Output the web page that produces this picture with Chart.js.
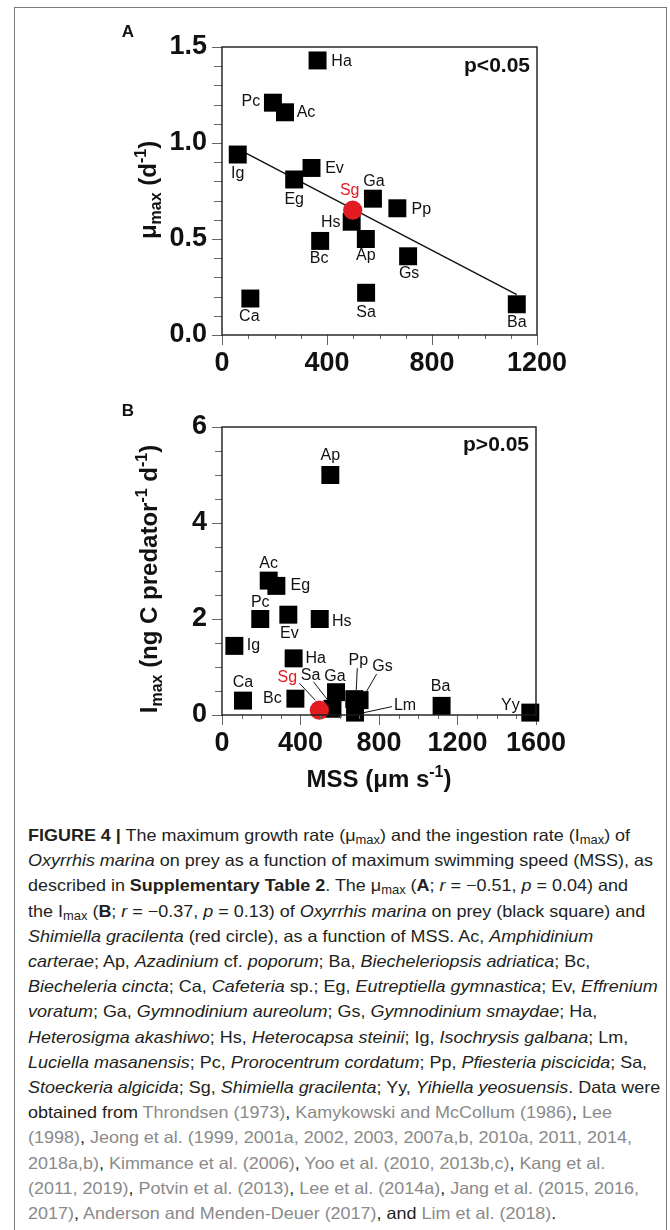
<!DOCTYPE html>
<html>
<head>
<meta charset="utf-8">
<title>Figure 4</title>
<script src="https://cdn.jsdelivr.net/npm/chart.js@4.4.1/dist/chart.umd.min.js"></script>
<style>
  html, body { margin: 0; padding: 0; background: #fff; }
  body { width: 670px; height: 1230px; position: relative; overflow: hidden; font-family: 'Liberation Sans', Arial, Helvetica, sans-serif; }
  #frame { position: absolute; left: 14px; top: 7px; width: 653px; height: 1260px; border: 1.5px solid #7a7a7a; box-sizing: border-box; }
  canvas { position: absolute; left: 0; }
  #chartA { top: 0; }
  #chartB { top: 390px; }
  #caption { position: absolute; left: 28px; top: 823px; font-size: 16.5px; line-height: 25.2px; color: #231f20; white-space: nowrap; transform-origin: 0 0; }
  #caption div { display: block; }
  #caption span.line { display: inline-block; }
  #caption sub { font-size: 0.72em; vertical-align: -0.28em; line-height: 0; }
  .ref { color: #8a8a8a; }
</style>
</head>
<body>
<div id="frame"></div>
<canvas id="chartA" width="670" height="390"></canvas>
<canvas id="chartB" width="670" height="420"></canvas>

<div id="caption">
  <div><span class="line"><b>FIGURE 4 |</b> The maximum growth rate (μ<sub>max</sub>) and the ingestion rate (I<sub>max</sub>) of</span></div>
  <div><span class="line" id="refLine"><i>Oxyrrhis marina</i> on prey as a function of maximum swimming speed (MSS), as</span></div>
  <div><span class="line">described in <b>Supplementary Table 2</b>. The μ<sub>max</sub> (<b>A</b>; <i>r</i> = −0.51, <i>p</i> = 0.04) and</span></div>
  <div><span class="line">the I<sub>max</sub> (<b>B</b>; <i>r</i> = −0.37, <i>p</i> = 0.13) of <i>Oxyrrhis marina</i> on prey (black square) and</span></div>
  <div><span class="line"><i>Shimiella gracilenta</i> (red circle), as a function of MSS. Ac, <i>Amphidinium</i></span></div>
  <div><span class="line"><i>carterae</i>; Ap, <i>Azadinium</i> cf. <i>poporum</i>; Ba, <i>Biecheleriopsis adriatica</i>; Bc,</span></div>
  <div><span class="line"><i>Biecheleria cincta</i>; Ca, <i>Cafeteria</i> sp.; Eg, <i>Eutreptiella gymnastica</i>; Ev, <i>Effrenium</i></span></div>
  <div><span class="line"><i>voratum</i>; Ga, <i>Gymnodinium aureolum</i>; Gs, <i>Gymnodinium smaydae</i>; Ha,</span></div>
  <div><span class="line"><i>Heterosigma akashiwo</i>; Hs, <i>Heterocapsa steinii</i>; Ig, <i>Isochrysis galbana</i>; Lm,</span></div>
  <div><span class="line"><i>Luciella masanensis</i>; Pc, <i>Prorocentrum cordatum</i>; Pp, <i>Pfiesteria piscicida</i>; Sa,</span></div>
  <div><span class="line"><i>Stoeckeria algicida</i>; Sg, <i>Shimiella gracilenta</i>; Yy, <i>Yihiella yeosuensis</i>. Data were</span></div>
  <div><span class="line">obtained from <span class="ref">Throndsen (1973)</span>, <span class="ref">Kamykowski and McCollum (1986)</span>, <span class="ref">Lee</span></span></div>
  <div><span class="line"><span class="ref">(1998)</span>, <span class="ref">Jeong et al. (1999, 2001a, 2002, 2003, 2007a,b, 2010a, 2011, 2014,</span></span></div>
  <div><span class="line"><span class="ref">2018a,b)</span>, <span class="ref">Kimmance et al. (2006)</span>, <span class="ref">Yoo et al. (2010, 2013b,c)</span>, <span class="ref">Kang et al.</span></span></div>
  <div><span class="line"><span class="ref">(2011, 2019)</span>, <span class="ref">Potvin et al. (2013)</span>, <span class="ref">Lee et al. (2014a)</span>, <span class="ref">Jang et al. (2015, 2016,</span></span></div>
  <div><span class="line"><span class="ref">2017)</span>, <span class="ref">Anderson and Menden-Deuer (2017)</span>, and <span class="ref">Lim et al. (2018)</span>.</span></div>
</div>

<script>
// Figure 4 - mu max and I max of Oxyrrhis marina vs. maximum swimming speed (MSS)

const FONT = "'Liberation Sans', Arial, Helvetica, sans-serif";
const SQUARE_COLOR = '#000000';
const SG_COLOR = '#e31b23';

// Panel A data
const preyA = ['Ha', 'Pc', 'Ac', 'Ig', 'Ev', 'Eg', 'Ga', 'Pp', 'Hs', 'Bc', 'Ap', 'Gs', 'Ca', 'Sa', 'Ba'];
const mssA = [364, 194, 240, 60, 341, 275, 575, 668, 494, 374, 548, 709, 108, 549, 1123];
const muMax = [1.43, 1.21, 1.16, 0.94, 0.87, 0.81, 0.71, 0.66, 0.59, 0.49, 0.50, 0.41, 0.19, 0.22, 0.16];
const sgMssA = [498];
const sgMuMax = [0.65];
const fitMss = [60, 1123];
const fitMu = [0.97, 0.21];
const xTicksA = [0, 400, 800, 1200];
const yTicksA = [0, 0.5, 1.0, 1.5];

// Panel B data
const preyB = ['Ap', 'Ac', 'Eg', 'Pc', 'Ev', 'Hs', 'Ig', 'Ha', 'Ca', 'Bc', 'Sa', 'Ga', 'Pp', 'Gs', 'Lm', 'Ba', 'Yy'];
const mssB = [552, 238, 277, 195, 338, 498, 63, 365, 107, 374, 563, 581, 674, 701, 678, 1119, 1571];
const iMax = [5.0, 2.80, 2.69, 2.00, 2.09, 2.00, 1.44, 1.18, 0.30, 0.34, 0.13, 0.475, 0.33, 0.31, 0.05, 0.19, 0.05];
const sgMssB = [496];
const sgIMax = [0.10];
const xTicksB = [0, 400, 800, 1200, 1600];
const yTicksB = [0, 2, 4, 6];

// label placement (pixel offsets from each marker: [dx, dy] or [dx, dy, x1, y1, x2, y2] with a leader line)
const labelPosA = {
    Ha: [24, 1], Pc: [-22, -1], Ac: [21, 0], Ig: [0, 19], Ev: [23, 1], Eg: [0, 20], Ga: [1, -17],
    Pp: [24, 1], Hs: [-21, 1], Bc: [-1, 18], Ap: [0, 17], Gs: [1, 17], Ca: [-1, 18], Sa: [0, 20], Ba: [0, 18],
    Sg: [-3, -20]
};
const labelPosB = {
    Ap: [0, -19], Ac: [0, -17], Eg: [24, 0], Pc: [0, -16], Ev: [1, 19], Hs: [22, 3], Ig: [19, 0], Ha: [22, 0],
    Ca: [0, -18], Bc: [-23, 0], Ba: [-1, -19], Yy: [-20, -7], Ga: [-1, -16],
    Sa: [-22, -33, -19, -27, -5, -9],
    Pp: [4, -39, 3, -31, 2, -9],
    Gs: [23, -34, 17, -26, 6, -7],
    Lm: [50, -7, 37, -6, 9, 0],
    Sg: [-32, -33, -20, -27, -4, -10]
};

Chart.defaults.font.family = FONT;
Chart.defaults.color = '#111';

function toPoints(xs, ys) {
    return xs.map((x, i) => ({ x: x, y: ys[i] }));
}

// draw a string made of parts [text, size, baselineShift]
function drawRich(ctx, parts, cx, cy, rotated) {
    ctx.save();
    ctx.translate(cx, cy);
    if (rotated) ctx.rotate(-Math.PI / 2);
    ctx.textAlign = 'left';
    ctx.textBaseline = 'alphabetic';
    let total = 0;
    parts.forEach(p => {
        ctx.font = 'bold ' + p[1] + 'px ' + FONT;
        total += ctx.measureText(p[0]).width;
    });
    let x = -total / 2;
    const base = parts[0][1] * 0.36;
    parts.forEach(p => {
        ctx.font = 'bold ' + p[1] + 'px ' + FONT;
        ctx.fillText(p[0], x, base + p[2]);
        x += ctx.measureText(p[0]).width;
    });
    ctx.restore();
}

// frame, minor ticks, axis titles, panel letter and p value
const decorPlugin = {
    id: 'decor',
    afterDraw(chart, args, o) {
        const ctx = chart.ctx;
        const a = chart.chartArea;
        const xs = chart.scales.x, ys = chart.scales.y;
        ctx.save();

        // minor ticks
        ctx.strokeStyle = '#666';
        ctx.lineWidth = 1;
        ctx.beginPath();
        const nx = Math.round((xs.max - xs.min) / o.xMinor);
        for (let i = 0; i <= nx; i++) {
            const v = xs.min + i * o.xMinor;
            if (o.xMajors.includes(v)) continue;
            const px = Math.round(xs.getPixelForValue(v)) + 0.5;
            ctx.moveTo(px, a.bottom);
            ctx.lineTo(px, a.bottom + o.xMinorLen);
        }
        const ny = Math.round((ys.max - ys.min) / o.yMinor);
        for (let i = 0; i <= ny; i++) {
            const v = +(ys.min + i * o.yMinor).toFixed(4);
            if (o.yMajors.includes(v)) continue;
            const py = Math.round(ys.getPixelForValue(v)) + 0.5;
            ctx.moveTo(a.left, py);
            ctx.lineTo(a.left - o.yMinorLen, py);
        }
        ctx.stroke();

        // plot frame
        ctx.strokeStyle = '#1a1a1a';
        ctx.lineWidth = 1.4;
        ctx.strokeRect(a.left, a.top, a.right - a.left, a.bottom - a.top);

        // titles
        ctx.fillStyle = '#111';
        if (o.yTitle) drawRich(ctx, o.yTitle, o.yTitlePos[0], o.yTitlePos[1], true);
        if (o.xTitle) drawRich(ctx, o.xTitle, o.xTitlePos[0], o.xTitlePos[1], false);

        // panel letter
        ctx.font = 'bold 17px ' + FONT;
        ctx.textAlign = 'center';
        ctx.textBaseline = 'alphabetic';
        ctx.fillText(o.letter, o.letterPos[0], o.letterPos[1]);

        // p value
        ctx.font = 'bold 21px ' + FONT;
        ctx.textAlign = 'right';
        ctx.fillText(o.pText, a.right - 7, a.top + o.pBaseline);
        ctx.restore();
    }
};

// text labels next to markers, with optional leader lines
const labelPlugin = {
    id: 'pointLabels',
    afterDatasetsDraw(chart, args, o) {
        const ctx = chart.ctx;
        ctx.save();
        ctx.font = '16px ' + FONT;
        ctx.textAlign = 'center';
        ctx.textBaseline = 'middle';
        o.sets.forEach(set => {
            const meta = chart.getDatasetMeta(set.dataset);
            meta.data.forEach((pt, i) => {
                const name = set.names[i];
                const pos = o.positions[name];
                if (!pos) return;
                if (pos.length > 2) {
                    ctx.strokeStyle = '#111';
                    ctx.lineWidth = 1;
                    ctx.beginPath();
                    ctx.moveTo(pt.x + pos[2], pt.y + pos[3]);
                    ctx.lineTo(pt.x + pos[4], pt.y + pos[5]);
                    ctx.stroke();
                }
                ctx.fillStyle = set.color;
                ctx.fillText(name, pt.x + pos[0], pt.y + pos[1]);
            });
        });
        ctx.restore();
    }
};

function axis(ticksArr, fitSize, isY, fmt, pad) {
    return {
        type: 'linear',
        min: ticksArr[0],
        max: ticksArr[ticksArr.length - 1],
        afterBuildTicks: s => { s.ticks = ticksArr.map(v => ({ value: v })); },
        afterFit: s => { if (isY) s.width = fitSize; else s.height = fitSize; },
        ticks: {
            autoSkip: false,
            maxRotation: 0,
            padding: pad,
            color: '#111',
            font: { size: 27, weight: 'bold' },
            callback: fmt
        },
        grid: { drawOnChartArea: false, drawTicks: true, tickLength: 10, tickColor: '#666', tickWidth: 1 },
        border: { display: false }
    };
}

function squaresDataset(xs, ys) {
    return {
        label: 'prey',
        data: toPoints(xs, ys),
        pointStyle: 'rect',
        pointRadius: 12.7,
        pointHoverRadius: 12.7,
        pointBackgroundColor: SQUARE_COLOR,
        pointBorderWidth: 0,
        clip: false,
        order: 1
    };
}

function sgDataset(xs, ys) {
    return {
        label: 'Sg',
        data: toPoints(xs, ys),
        pointStyle: 'circle',
        pointRadius: 9.6,
        pointHoverRadius: 9.6,
        pointBackgroundColor: SG_COLOR,
        pointBorderWidth: 0,
        clip: false,
        order: 0
    };
}

// Panel A chart
new Chart(document.getElementById('chartA'), {
    type: 'scatter',
    data: {
        datasets: [
            sgDataset(sgMssA, sgMuMax),
            squaresDataset(mssA, muMax),
            {
                label: 'fit',
                data: toPoints(fitMss, fitMu),
                showLine: true,
                borderColor: '#111',
                borderWidth: 1.4,
                pointRadius: 0,
                pointHoverRadius: 0,
                fill: false,
                order: 2
            }
        ]
    },
    options: {
        responsive: false,
        animation: false,
        events: [],
        layout: { padding: { left: 0, right: 133, top: 47, bottom: 0 } },
        plugins: {
            legend: { display: false },
            tooltip: { enabled: false },
            decor: {
                xMinor: 100, yMinor: 0.1, xMinorLen: 4, yMinorLen: 8,
                xMajors: xTicksA, yMajors: yTicksA,
                yTitle: [['μ', 24, 0], ['max', 16, 5], [' (d', 24, 0], ['-1', 16, -10], [')', 24, 0]],
                yTitlePos: [147, 190],
                letter: 'A', letterPos: [128, 37],
                pText: 'p<0.05', pBaseline: 25
            },
            pointLabels: {
                positions: labelPosA,
                sets: [
                    { dataset: 1, names: preyA, color: '#111' },
                    { dataset: 0, names: ['Sg'], color: SG_COLOR }
                ]
            }
        },
        scales: {
            x: axis(xTicksA, 55, false, v => String(v), 2),
            y: axis(yTicksA, 222, true, v => v.toFixed(1), 5)
        }
    },
    plugins: [labelPlugin, decorPlugin]
});

// Panel B chart
new Chart(document.getElementById('chartB'), {
    type: 'scatter',
    data: {
        datasets: [
            sgDataset(sgMssB, sgIMax),
            squaresDataset(mssB, iMax)
        ]
    },
    options: {
        responsive: false,
        animation: false,
        events: [],
        layout: { padding: { left: 0, right: 134, top: 37, bottom: 0 } },
        plugins: {
            legend: { display: false },
            tooltip: { enabled: false },
            decor: {
                xMinor: 100, yMinor: 0.5, xMinorLen: 4, yMinorLen: 7,
                xMajors: xTicksB, yMajors: yTicksB,
                yTitle: [['I', 24, 0], ['max', 16, 5], [' (ng C predator', 24, 0], ['-1', 16, -10], [' d', 24, 0], ['-1', 16, -10], [')', 24, 0]],
                yTitlePos: [148, 189],
                xTitle: [['MSS (μm s', 24, 0], ['-1', 16, -10], [')', 24, 0]],
                xTitlePos: [379, 388],
                letter: 'B', letterPos: [128, 26],
                pText: 'p>0.05', pBaseline: 24
            },
            pointLabels: {
                positions: labelPosB,
                sets: [
                    { dataset: 1, names: preyB, color: '#111' },
                    { dataset: 0, names: ['Sg'], color: SG_COLOR }
                ]
            }
        },
        scales: {
            x: axis(xTicksB, 95, false, v => String(v), 2),
            y: axis(yTicksB, 222, true, v => String(v), 5)
        }
    },
    plugins: [labelPlugin, decorPlugin]
});

// squeeze caption lines to the condensed width of the original
(function fitCaption() {
    const cap = document.getElementById('caption');
    const ref = document.getElementById('refLine');
    const w = ref.getBoundingClientRect().width;
    const k = 625 / w;
    cap.style.transform = 'scaleX(' + k.toFixed(4) + ')';
})();
</script>
</body>
</html>
